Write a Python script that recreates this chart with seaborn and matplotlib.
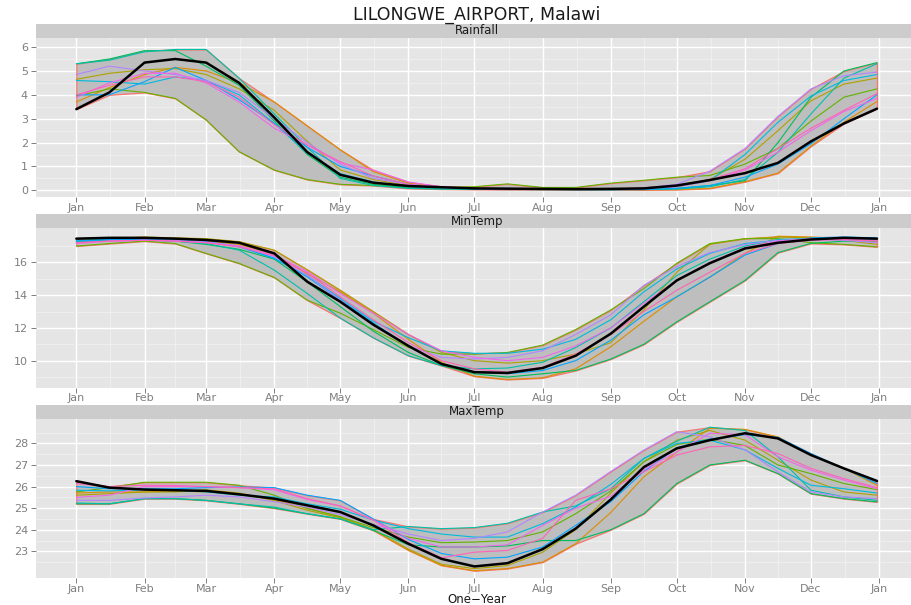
import matplotlib
matplotlib.use("Agg")
import matplotlib.pyplot as plt
import numpy as np
import pandas as pd
import seaborn as sns

# ---------------------------------------------------------------- data
# day of year (0 = 1 Jan) of each sample: 1st and 16th of every month, then 31 Dec
day = [0, 15, 31, 45, 59, 74, 90, 105, 120, 135, 151, 166, 181, 196,
       212, 227, 243, 258, 273, 288, 304, 319, 334, 349, 364]

month_days = [0, 31, 59, 90, 120, 151, 181, 212, 243, 273, 304, 334, 365]
month_labels = ["Jan", "Feb", "Mar", "Apr", "May", "Jun", "Jul",
                "Aug", "Sep", "Oct", "Nov", "Dec", "Jan"]

years = ["2002", "2003", "2004", "2005", "2006",
         "2007", "2008", "2009", "2010", "2011"]
current_year = "2012"
year_colors = ["#DB8E00", "#AEA200", "#64B200", "#00BD5C", "#00C1A7",
               "#00BADE", "#00A6FF", "#B385FF", "#EF67EB", "#FF63B6"]

# Rainfall (mm/day, smoothed)
rain_2002 = [3.70, 4.30, 4.85, 5.15, 5.00, 4.50, 3.70, 2.70, 1.70, 0.78, 0.30, 0.15, 0.08,
             0.06, 0.04, 0.03, 0.02, 0.02, 0.03, 0.08, 0.36, 0.72, 1.85, 2.85, 3.72]
rain_2003 = [4.65, 4.90, 5.05, 5.10, 4.85, 4.25, 3.35, 2.05, 0.85, 0.45, 0.20, 0.10, 0.06,
             0.05, 0.04, 0.04, 0.05, 0.10, 0.20, 0.45, 1.30, 2.50, 3.75, 4.45, 4.70]
rain_2004 = [3.95, 4.25, 4.10, 3.85, 2.95, 1.62, 0.85, 0.45, 0.25, 0.20, 0.15, 0.12, 0.15,
             0.27, 0.12, 0.12, 0.30, 0.42, 0.55, 0.62, 1.10, 1.75, 2.90, 3.90, 4.25]
rain_2005 = [5.30, 5.50, 5.85, 5.85, 5.20, 4.40, 2.90, 1.50, 0.55, 0.25, 0.10, 0.06, 0.04,
             0.04, 0.03, 0.03, 0.03, 0.05, 0.08, 0.20, 0.40, 2.00, 3.90, 5.00, 5.35]
rain_2006 = [5.30, 5.45, 5.80, 5.90, 5.90, 4.70, 3.20, 1.80, 0.50, 0.20, 0.08, 0.05, 0.04,
             0.03, 0.03, 0.03, 0.03, 0.04, 0.05, 0.15, 0.45, 1.60, 3.20, 4.70, 5.30]
rain_2007 = [4.60, 4.55, 4.45, 4.75, 4.60, 4.00, 2.80, 1.55, 0.70, 0.35, 0.15, 0.10, 0.06,
             0.05, 0.05, 0.05, 0.05, 0.08, 0.15, 0.40, 1.50, 2.85, 3.95, 4.60, 4.85]
rain_2008 = [4.00, 4.00, 4.55, 5.15, 4.60, 3.80, 2.80, 1.80, 1.00, 0.60, 0.25, 0.12, 0.07,
             0.05, 0.04, 0.03, 0.02, 0.03, 0.08, 0.20, 0.55, 1.10, 1.95, 3.00, 4.00]
rain_2009 = [4.85, 5.20, 5.00, 4.85, 4.60, 4.10, 3.00, 2.00, 1.10, 0.50, 0.25, 0.12, 0.08,
             0.06, 0.05, 0.05, 0.05, 0.10, 0.25, 0.80, 1.75, 3.10, 4.25, 4.80, 4.95]
rain_2010 = [3.90, 4.50, 4.90, 4.90, 4.50, 3.70, 2.60, 1.90, 1.15, 0.85, 0.35, 0.15, 0.08,
             0.07, 0.06, 0.05, 0.05, 0.08, 0.15, 0.40, 0.85, 1.60, 2.50, 3.30, 3.85]
rain_2011 = [4.00, 4.40, 4.75, 4.75, 4.55, 3.90, 2.75, 1.90, 1.20, 0.60, 0.25, 0.12, 0.07,
             0.06, 0.05, 0.05, 0.05, 0.10, 0.20, 0.45, 0.90, 1.75, 2.60, 3.35, 4.05]
rain_2012 = [3.40, 4.10, 5.35, 5.50, 5.35, 4.50, 3.05, 1.60, 0.65, 0.32, 0.18, 0.13, 0.08,
             0.07, 0.06, 0.05, 0.06, 0.08, 0.20, 0.43, 0.72, 1.15, 2.05, 2.80, 3.42]

# Minimum temperature (deg C, smoothed)
tmin_2002 = [17.25, 17.40, 17.45, 17.40, 17.30, 17.10, 16.50, 15.30, 14.20, 12.90, 11.30, 9.90, 9.05,
             8.85, 8.95, 9.50, 10.85, 12.40, 13.90, 15.10, 16.55, 17.60, 17.55, 17.45, 17.30]
tmin_2003 = [17.30, 17.45, 17.55, 17.50, 17.45, 17.27, 16.75, 15.55, 14.30, 13.00, 11.60, 10.50, 10.00,
             9.85, 10.00, 10.40, 11.10, 13.10, 15.40, 17.10, 17.45, 17.55, 17.50, 17.35, 17.10]
tmin_2004 = [17.00, 17.15, 17.30, 17.15, 16.55, 15.94, 15.08, 13.69, 12.90, 11.90, 10.80, 10.40, 10.40,
             10.50, 10.95, 11.90, 13.10, 14.40, 15.95, 17.15, 17.45, 17.45, 17.20, 17.10, 16.95]
tmin_2005 = [17.20, 17.35, 17.40, 17.30, 17.10, 16.80, 16.20, 14.80, 13.30, 11.80, 10.50, 9.70, 9.20,
             9.00, 9.20, 9.40, 10.10, 11.00, 12.37, 13.60, 14.90, 16.60, 17.16, 17.30, 17.30]
tmin_2006 = [17.35, 17.40, 17.35, 17.30, 17.15, 16.75, 15.53, 14.10, 12.60, 11.40, 10.30, 9.70, 9.50,
             9.55, 9.90, 10.80, 12.00, 13.60, 15.20, 16.20, 17.00, 17.40, 17.45, 17.45, 17.40]
tmin_2007 = [17.30, 17.40, 17.45, 17.40, 17.25, 17.00, 16.25, 15.20, 13.80, 12.40, 11.40, 10.60, 10.45,
             10.45, 10.70, 11.30, 12.50, 14.20, 15.60, 16.55, 17.15, 17.35, 17.45, 17.50, 17.45]
tmin_2008 = [17.30, 17.40, 17.40, 17.35, 17.25, 16.95, 16.25, 15.12, 13.70, 12.30, 10.90, 9.80, 9.30,
             9.20, 9.40, 10.00, 11.25, 12.80, 13.90, 15.10, 16.45, 17.15, 17.50, 17.55, 17.50]
tmin_2009 = [17.20, 17.30, 17.35, 17.35, 17.25, 17.00, 16.35, 15.20, 13.70, 12.20, 10.90, 10.20, 10.10,
             10.20, 10.60, 11.60, 12.80, 14.60, 15.75, 16.60, 17.10, 17.35, 17.40, 17.35, 17.20]
tmin_2010 = [17.15, 17.30, 17.35, 17.30, 17.20, 17.00, 16.45, 15.43, 14.10, 12.90, 11.60, 10.60, 10.20,
             10.00, 10.20, 10.90, 12.00, 13.50, 14.90, 16.00, 16.90, 17.30, 17.45, 17.40, 17.35]
tmin_2011 = [17.20, 17.30, 17.35, 17.30, 17.20, 16.95, 16.40, 15.35, 13.90, 12.50, 11.10, 10.00, 9.50,
             9.30, 9.60, 10.40, 11.60, 13.00, 14.30, 15.40, 16.55, 17.15, 17.35, 17.40, 17.30]
tmin_2012 = [17.45, 17.50, 17.50, 17.45, 17.37, 17.20, 16.55, 14.82, 13.60, 12.20, 10.90, 9.80, 9.30,
             9.25, 9.55, 10.30, 11.65, 13.30, 14.90, 15.95, 16.85, 17.20, 17.40, 17.50, 17.45]

# Maximum temperature (deg C, smoothed)
tmax_2002 = [25.70, 25.75, 25.75, 25.80, 25.75, 25.65, 25.40, 25.00, 24.60, 24.00, 23.05, 22.35, 22.10,
             22.20, 22.50, 23.35, 24.80, 26.45, 27.60, 28.70, 28.65, 28.30, 27.46, 26.84, 26.06]
tmax_2003 = [25.60, 25.67, 25.75, 25.75, 25.85, 25.70, 25.35, 24.90, 24.55, 24.00, 23.10, 22.40, 22.20,
             22.34, 22.96, 24.00, 25.70, 27.15, 28.15, 28.60, 28.15, 27.22, 26.30, 25.75, 25.60]
tmax_2004 = [25.75, 25.95, 26.20, 26.20, 26.20, 26.06, 25.60, 24.98, 24.60, 24.10, 23.66, 23.40, 23.43,
             23.50, 23.90, 24.74, 25.80, 27.15, 27.95, 28.20, 27.90, 27.00, 26.60, 26.14, 25.86]
tmax_2005 = [25.20, 25.20, 25.44, 25.44, 25.36, 25.20, 25.00, 24.74, 24.50, 23.97, 23.30, 23.20, 23.20,
             23.25, 23.50, 23.50, 24.00, 24.74, 26.14, 27.00, 27.22, 26.60, 25.67, 25.44, 25.29]
tmax_2006 = [25.24, 25.20, 25.44, 25.44, 25.36, 25.20, 25.05, 24.74, 24.50, 24.00, 24.15, 24.05, 24.10,
             24.30, 24.82, 25.10, 25.90, 27.30, 28.10, 28.75, 28.60, 27.38, 25.83, 25.52, 25.36]
tmax_2007 = [25.83, 25.80, 25.85, 25.83, 25.75, 25.60, 25.52, 25.20, 24.95, 24.45, 24.05, 23.80, 23.66,
             23.66, 24.28, 25.05, 26.10, 27.30, 28.00, 28.15, 27.70, 26.84, 26.06, 25.90, 25.70]
tmax_2008 = [26.00, 25.90, 25.90, 25.90, 25.95, 25.98, 25.95, 25.60, 25.36, 24.50, 23.55, 22.90, 22.65,
             22.73, 23.20, 24.20, 25.30, 26.70, 27.80, 28.20, 28.40, 28.28, 27.53, 26.84, 26.14]
tmax_2009 = [25.36, 25.36, 25.47, 25.52, 25.60, 25.52, 25.30, 25.05, 24.70, 24.25, 23.80, 23.50, 23.60,
             23.90, 24.82, 25.60, 26.70, 27.69, 28.54, 28.30, 27.70, 26.68, 25.75, 25.52, 25.44]
tmax_2010 = [25.50, 25.60, 26.00, 26.00, 26.00, 25.95, 25.85, 25.40, 25.10, 24.45, 23.60, 23.20, 23.20,
             23.30, 24.20, 25.00, 25.55, 26.80, 27.60, 28.47, 28.40, 27.38, 26.76, 26.30, 25.90]
tmax_2011 = [26.14, 26.00, 26.06, 26.05, 26.00, 25.95, 25.90, 25.44, 25.10, 24.45, 23.40, 22.70, 22.96,
             23.04, 23.60, 25.36, 25.90, 26.68, 27.46, 27.84, 27.90, 27.53, 26.84, 26.37, 25.95]
tmax_2012 = [26.25, 25.95, 25.86, 25.83, 25.80, 25.64, 25.44, 25.13, 24.82, 24.20, 23.35, 22.65, 22.30,
             22.45, 23.10, 24.05, 25.40, 26.90, 27.77, 28.15, 28.47, 28.23, 27.46, 26.84, 26.26]

rain_years = [rain_2002, rain_2003, rain_2004, rain_2005, rain_2006,
              rain_2007, rain_2008, rain_2009, rain_2010, rain_2011]
tmin_years = [tmin_2002, tmin_2003, tmin_2004, tmin_2005, tmin_2006,
              tmin_2007, tmin_2008, tmin_2009, tmin_2010, tmin_2011]
tmax_years = [tmax_2002, tmax_2003, tmax_2004, tmax_2005, tmax_2006,
              tmax_2007, tmax_2008, tmax_2009, tmax_2010, tmax_2011]


def long_frame(variable, past, current):
    rows = []
    for yr, vals in zip(years, past):
        rows += [(variable, yr, d, v) for d, v in zip(day, vals)]
    rows += [(variable, current_year, d, v) for d, v in zip(day, current)]
    return pd.DataFrame(rows, columns=["variable", "year", "day", "value"])


df = pd.concat([long_frame("Rainfall", rain_years, rain_2012),
                long_frame("MinTemp", tmin_years, tmin_2012),
                long_frame("MaxTemp", tmax_years, tmax_2012)], ignore_index=True)

# ---------------------------------------------------------------- style
sns.set_theme(style="darkgrid")
plt.rcParams["font.family"] = ["DejaVu Sans"]
plt.rcParams["axes.facecolor"] = "#E5E5E5"

W, H = 912, 605
fig = plt.figure(figsize=(W / 100, H / 100), dpi=100)
fig.patch.set_facecolor("white")


def px_axes(x0, y0, x1, y1):
    return fig.add_axes([x0 / W, 1 - y1 / H, (x1 - x0) / W, (y1 - y0) / H])


panels = [
    ("Rainfall", (-0.28, 6.38), [0, 1, 2, 3, 4, 5, 6], 38.0, 197.0),
    ("MinTemp", (8.35, 18.10), [10, 12, 14, 16], 228.0, 387.7),
    ("MaxTemp", (21.75, 29.13), [23, 24, 25, 26, 27, 28], 419.0, 578.3),
]

x_left, x_right = 36.3, 917.0
x_mid = 477.0
grey_txt = "#7F7F7F"
palette = dict(zip(years, year_colors))

for i, (name, ylim, yticks, top, bottom) in enumerate(panels):
    ax = px_axes(x_left, top, x_right, bottom)

    # facet strip
    strip = px_axes(x_left, top - 14, x_right, top)
    strip.set_facecolor("#CCCCCC")
    strip.set_xticks([])
    strip.set_yticks([])
    for s in strip.spines.values():
        s.set_visible(False)
    fig.text(x_mid / W, 1 - (top - 7) / H, name, ha="center", va="center",
             fontsize=8.5, color="#1A1A1A")

    sub = df[df["variable"] == name]
    wide = sub.pivot(index="day", columns="year", values="value")
    lo = wide.min(axis=1)
    hi = wide.max(axis=1)
    ax.fill_between(wide.index, lo, hi, facecolor="#BEBEBE",
                    edgecolor="#F8766D", linewidth=0.9, zorder=2)

    past = sub[sub["year"] != current_year]
    sns.lineplot(data=past, x="day", y="value", hue="year", hue_order=years,
                 palette=palette, estimator=None, legend=False,
                 linewidth=0.8, ax=ax, zorder=3)
    cur = sub[sub["year"] == current_year]
    sns.lineplot(data=cur, x="day", y="value", color="black",
                 estimator=None, linewidth=1.8, ax=ax, zorder=4)

    ax.set_xlim(-18.2, 382.2)
    ax.set_xticks(month_days)
    ax.set_xticklabels(month_labels)
    ax.set_xticks([(a + b) / 2 for a, b in zip(month_days[:-1], month_days[1:])],
                  minor=True)
    ax.set_yticks(yticks)
    step = yticks[1] - yticks[0]
    ax.set_yticks([t + step / 2 for t in [yticks[0] - step] + yticks], minor=True)
    ax.set_ylim(*ylim)

    ax.grid(which="major", color="white", linewidth=1.0)
    ax.grid(which="minor", color="#F2F2F2", linewidth=0.5)
    ax.set_axisbelow(True)
    for s in ax.spines.values():
        s.set_visible(False)
    ax.tick_params(axis="both", which="major", length=3.5, width=0.7,
                   color=grey_txt, labelcolor=grey_txt, labelsize=8,
                   bottom=True, left=True)
    ax.tick_params(axis="x", which="major", pad=0.6)
    ax.tick_params(axis="y", which="major", pad=2.5)
    ax.tick_params(which="minor", length=0)
    ax.set_ylabel("")
    ax.set_xlabel("")

fig.text(x_mid / W, 1 - 599.5 / H, "One\u2212Year", ha="center", va="center",
         fontsize=8.5, color="#1A1A1A")
fig.text(x_mid / W, 1 - 15 / H, "LILONGWE_AIRPORT, Malawi", ha="center",
         va="center", fontsize=12.5, color="#1A1A1A")

fig.savefig("out.png", dpi=100)
